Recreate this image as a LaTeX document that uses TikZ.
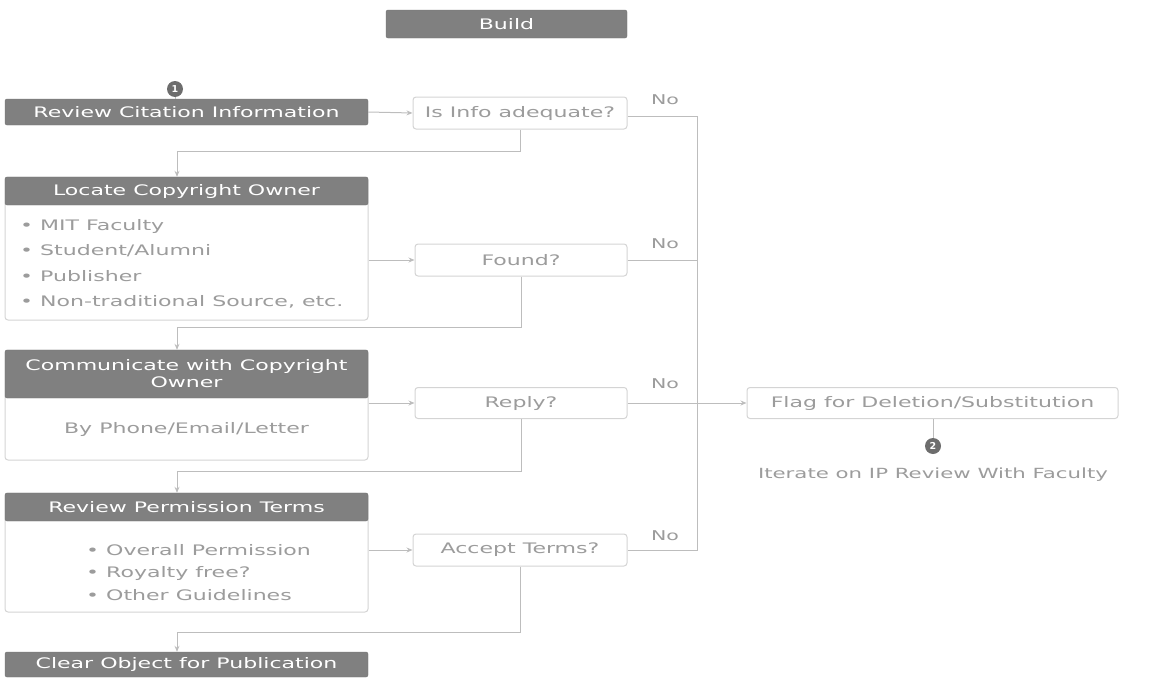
\documentclass[tikz,border=0pt]{standalone}
\usepackage{fontspec}
\setmainfont{DejaVu Sans}
\newfontfamily\widefont[FakeStretch=1.52]{DejaVu Sans}
\usetikzlibrary{arrows.meta}
\definecolor{hdr}{HTML}{808080}
\definecolor{txt}{HTML}{9C9C9C}
\definecolor{lin}{HTML}{BDBDBD}
\definecolor{brd}{HTML}{D4D4D4}
\begin{document}
\begin{tikzpicture}[x=1pt,y=-1pt,
  hbox/.style={draw=hdr!90!black,fill=hdr,rounded corners=2pt,text=white,font=\widefont\fontsize{14.5}{17}\selectfont,inner sep=0pt,anchor=center},
  wbox/.style={draw=brd,fill=white,rounded corners=3pt,line width=1pt,inner sep=0pt,anchor=center},
  qbox/.style={draw=brd,fill=white,rounded corners=3pt,line width=1pt,text=txt,font=\widefont\fontsize{14.5}{17}\selectfont,inner sep=0pt,anchor=center},
  itm/.style={text=txt,font=\widefont\fontsize{14.5}{17}\selectfont,anchor=west,inner sep=0pt},
  nolab/.style={text=txt,font=\widefont\fontsize{13.5}{15}\selectfont,inner sep=0pt},
  num/.style={circle,fill=hdr!85!black,text=white,minimum size=16pt,inner sep=0pt,font=\fontsize{9.5}{10}\selectfont\bfseries},
  conn/.style={draw=lin,line width=1pt},
  arr/.style={conn,-{Stealth[length=6pt,width=5pt]}}]
\useasboundingbox (0,0) rectangle (1154,680);

% Build
\node[hbox,minimum width=241pt,minimum height=28pt] (build) at (506.5,24) {Build};

% step 1
\node[num] (c1) at (175,89) {1};
\node[hbox,minimum width=363pt,minimum height=26pt] (rci) at (186.5,112) {Review Citation Information};
\node[qbox,minimum width=214pt,minimum height=32pt] (q1) at (520,113) {Is Info adequate?};

% Locate
\node[wbox,minimum width=363pt,minimum height=143pt] (locb) at (186.5,248.5) {};
\node[hbox,minimum width=363pt,minimum height=28pt] (loch) at (186.5,191) {Locate Copyright Owner};
\node[itm] (l1) at (20,226) {• MIT Faculty};
\node[itm] (l2) at (20,251) {• Student/Alumni};
\node[itm] (l3) at (20,276) {• Publisher};
\node[itm] (l4) at (20,302) {• Non-traditional Source, etc.};
\node[qbox,minimum width=212pt,minimum height=32pt] (q2) at (521,260) {Found?};

% Communicate
\node[wbox,minimum width=363pt,minimum height=110pt] (comb) at (186.5,405) {};
\node[hbox,minimum width=363pt,minimum height=48pt,align=center] (comh) at (186.5,374) {Communicate with Copyright\\[0pt]Owner};
\node[text=txt,font=\widefont\fontsize{14.5}{17}\selectfont,inner sep=0pt] (c1t) at (186.5,429) {By Phone/Email/Letter};
\node[qbox,minimum width=212pt,minimum height=31pt] (q3) at (521,403) {Reply?};

% Review Permission
\node[wbox,minimum width=363pt,minimum height=119pt] (revb) at (186.5,552.5) {};
\node[hbox,minimum width=363pt,minimum height=28pt] (revh) at (186.5,507) {Review Permission Terms};
\node[itm] (r1) at (86,550) {• Overall Permission};
\node[itm] (r2) at (86,573) {• Royalty free?};
\node[itm] (r3) at (86,595) {• Other Guidelines};
\node[qbox,minimum width=214pt,minimum height=32pt] (q4) at (520,550) {Accept Terms?};

% Clear
\node[hbox,minimum width=363pt,minimum height=25pt] (clr) at (186.5,664.5) {Clear Object for Publication};

% Flag
\node[qbox,minimum width=371pt,minimum height=31pt] (flag) at (932.5,403) {Flag for Deletion/Substitution};
\node[num] (c2) at (933,446) {2};
\node[text=txt,font=\widefont\fontsize{14}{16}\selectfont,inner sep=0pt] (iter) at (933,475) {Iterate on IP Review With Faculty};

% No labels
\node[nolab] (n1) at (665,100) {No};
\node[nolab] (n2) at (665,244) {No};
\node[nolab] (n3) at (665,384) {No};
\node[nolab] (n4) at (665,536) {No};

% junctions
\coordinate (j1) at (177,151);
\coordinate (j2) at (177,327);
\coordinate (j3) at (177,471);
\coordinate (j4) at (177,632);
\coordinate (busT) at (697,116);
\coordinate (busB) at (697,550);

% connectors
\draw[conn] (c1) -- (c1 |- rci.north);
\draw[arr] (rci.east) -- (q1.west);
\draw[arr] (q1.south) |- (j1) -- (j1 |- loch.north);
\draw[arr] (locb.east |- q2) -- (q2.west);
\draw[arr] (q2.south) |- (j2) -- (j2 |- comh.north);
\draw[arr] (comb.east |- q3) -- (q3.west);
\draw[arr] (q3.south) |- (j3) -- (j3 |- revh.north);
\draw[arr] (revb.east |- q4) -- (q4.west);
\draw[arr] (q4.south) |- (j4) -- (j4 |- clr.north);

\draw[conn] (q1.east |- busT) -- (busT) -- (busB) -- (q4.east);
\draw[conn] (q2.east) -- (q2.east -| busT);
\draw[arr] (q3.east) -- (flag.west);
\draw[conn] (flag.south -| c2) -- (c2);
\end{tikzpicture}
\end{document}
